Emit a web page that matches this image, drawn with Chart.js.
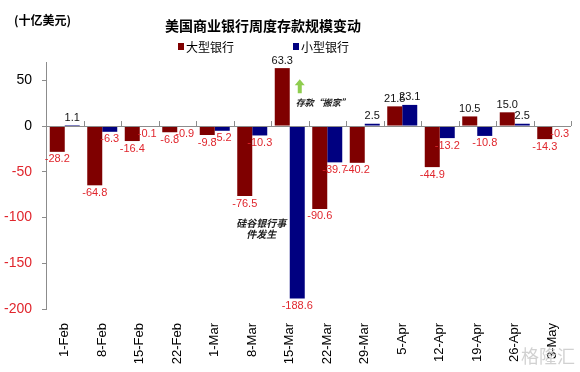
<!DOCTYPE html>
<html>
<head>
<meta charset="utf-8">
<script src="https://cdn.jsdelivr.net/npm/chart.js@4.4.0/dist/chart.umd.min.js"></script>
<style>
  html, body { margin: 0; padding: 0; background: #fff; }
  #wrap { width: 580px; height: 372px; }
</style>
</head>
<body>
<div id="wrap"><canvas id="chart" width="580" height="372"></canvas></div>
<script>
const weeks = ["1-Feb", "8-Feb", "15-Feb", "22-Feb", "1-Mar", "8-Mar", "15-Mar",
    "22-Mar", "29-Mar", "5-Apr", "12-Apr", "19-Apr", "26-Apr", "3-May"];
const largeBanks = [-28.2, -64.8, -16.4, -6.8, -9.8, -76.5, 63.3, -90.6, -40.2, 21.5, -44.9, 10.5, 15.0, -14.3];
const smallBanks = [1.1, -6.3, -0.1, -0.9, -5.2, -10.3, -188.6, -39.7, 2.5, 23.1, -13.2, -10.8, 2.5, -0.3];
const yTicks = [50, 0, -50, -100, -150, -200];

const RED = "#7f0000";
const BLUE = "#000080";
const LABEL_RED = "#e0262d";
const NUM_FONT = "'Liberation Sans', Arial, sans-serif";
const CJK_FONT = "'Noto Sans CJK SC', sans-serif";

// value labels at the end of each bar
const barLabels = {
    id: "barLabels",
    afterDatasetsDraw(chart) {
        const ctx = chart.ctx;
        ctx.save();
        ctx.font = "11px " + NUM_FONT;
        ctx.textAlign = "center";
        chart.data.datasets.forEach((ds, i) => {
            chart.getDatasetMeta(i).data.forEach((bar, j) => {
                const v = ds.data[j];
                const txt = v.toFixed(1);
                if (v >= 0) {
                    ctx.fillStyle = "#111";
                    ctx.textBaseline = "bottom";
                    ctx.fillText(txt, bar.x, bar.y - 2);
                } else {
                    ctx.fillStyle = LABEL_RED;
                    ctx.textBaseline = "top";
                    ctx.fillText(txt, bar.x, bar.y + 2);
                }
            });
        });
        ctx.restore();
    }
};

// zero line with category tick marks, title, legend and notes
const decorations = {
    id: "decorations",
    afterDatasetsDraw(chart) {
        const ctx = chart.ctx;
        const x = chart.scales.x, y = chart.scales.y;
        const y0 = y.getPixelForValue(0);
        const step = (x.right - x.left) / weeks.length;
        ctx.save();
        ctx.strokeStyle = "#8c8c8c";
        ctx.lineWidth = 1;
        ctx.beginPath();
        ctx.moveTo(x.left, Math.round(y0) + 0.5);
        ctx.lineTo(x.right, Math.round(y0) + 0.5);
        for (let i = 1; i <= weeks.length; i++) {
            const px = Math.round(x.left + i * step) + 0.5;
            ctx.moveTo(px, y0);
            ctx.lineTo(px, y0 - 5);
        }
        ctx.stroke();

        // title and unit
        ctx.fillStyle = "#000";
        ctx.textBaseline = "middle";
        ctx.textAlign = "center";
        ctx.font = "bold 14px " + CJK_FONT;
        ctx.fillText("美国商业银行周度存款规模变动", 263, 26);
        ctx.textAlign = "left";
        ctx.font = "bold 12px " + CJK_FONT;
        ctx.fillText("(十亿美元)", 14, 20);

        // legend
        ctx.font = "12px " + CJK_FONT;
        ctx.fillStyle = RED;
        ctx.fillRect(178, 43, 6, 7);
        ctx.fillStyle = "#000";
        ctx.fillText("大型银行", 186, 47);
        ctx.fillStyle = BLUE;
        ctx.fillRect(293, 43, 6, 7);
        ctx.fillStyle = "#000";
        ctx.fillText("小型银行", 301, 47);

        // notes
        const xMar15 = x.getPixelForValue(6);
        ctx.font = "italic bold 9px " + CJK_FONT;
        ctx.textAlign = "left";
        ctx.fillStyle = "#222";
        ctx.fillText("存款“搬家”", xMar15 + 6, y.getPixelForValue(26));
        ctx.fillStyle = "#8fcd4f";
        const ax = xMar15 + 10, ay = y.getPixelForValue(50);
        ctx.beginPath();
        ctx.moveTo(ax, ay - 1);
        ctx.lineTo(ax - 5, ay + 5);
        ctx.lineTo(ax - 2, ay + 5);
        ctx.lineTo(ax - 2, ay + 13);
        ctx.lineTo(ax + 2, ay + 13);
        ctx.lineTo(ax + 2, ay + 5);
        ctx.lineTo(ax + 5, ay + 5);
        ctx.closePath();
        ctx.fill();

        const xMar8 = x.getPixelForValue(5);
        ctx.fillStyle = "#222";
        ctx.textAlign = "center";
        ctx.font = "italic bold 10px " + CJK_FONT;
        ctx.fillText("硅谷银行事", xMar8 + 9, y.getPixelForValue(-106));
        ctx.fillText("件发生", xMar8 + 9, y.getPixelForValue(-118));

        // watermark
        ctx.fillStyle = "rgba(190,190,190,0.7)";
        ctx.font = "18px " + CJK_FONT;
        ctx.fillText("格隆汇", 548, 356);
        ctx.restore();
    }
};

new Chart(document.getElementById("chart"), {
    type: "bar",
    data: {
        labels: weeks,
        datasets: [
            { label: "大型银行", data: largeBanks, backgroundColor: RED },
            { label: "小型银行", data: smallBanks, backgroundColor: BLUE }
        ]
    },
    options: {
        responsive: false,
        animation: false,
        events: [],
        categoryPercentage: 0.8,
        barPercentage: 1.0,
        layout: { padding: { top: 62, right: 9, left: 0, bottom: 0 } },
        plugins: {
            legend: { display: false },
            title: { display: false },
            tooltip: { enabled: false }
        },
        scales: {
            x: {
                grid: { display: false },
                border: { display: false },
                ticks: {
                    minRotation: 90,
                    maxRotation: 90,
                    padding: 6,
                    color: "#000",
                    font: { family: NUM_FONT, size: 13 }
                },
                afterFit(scale) { scale.height = 63; }
            },
            y: {
                min: -200,
                max: 70,
                afterBuildTicks(scale) {
                    scale.ticks = yTicks.map(v => ({ value: v }));
                },
                grid: {
                    drawOnChartArea: false,
                    tickLength: 4,
                    color: "#8c8c8c"
                },
                border: { color: "#8c8c8c" },
                ticks: {
                    padding: 10,
                    color: c => c.tick && c.tick.value < 0 ? LABEL_RED : "#000",
                    font: { family: NUM_FONT, size: 14 }
                },
                afterFit(scale) { scale.width = 46; }
            }
        }
    },
    plugins: [barLabels, decorations]
});
</script>
</body>
</html>
